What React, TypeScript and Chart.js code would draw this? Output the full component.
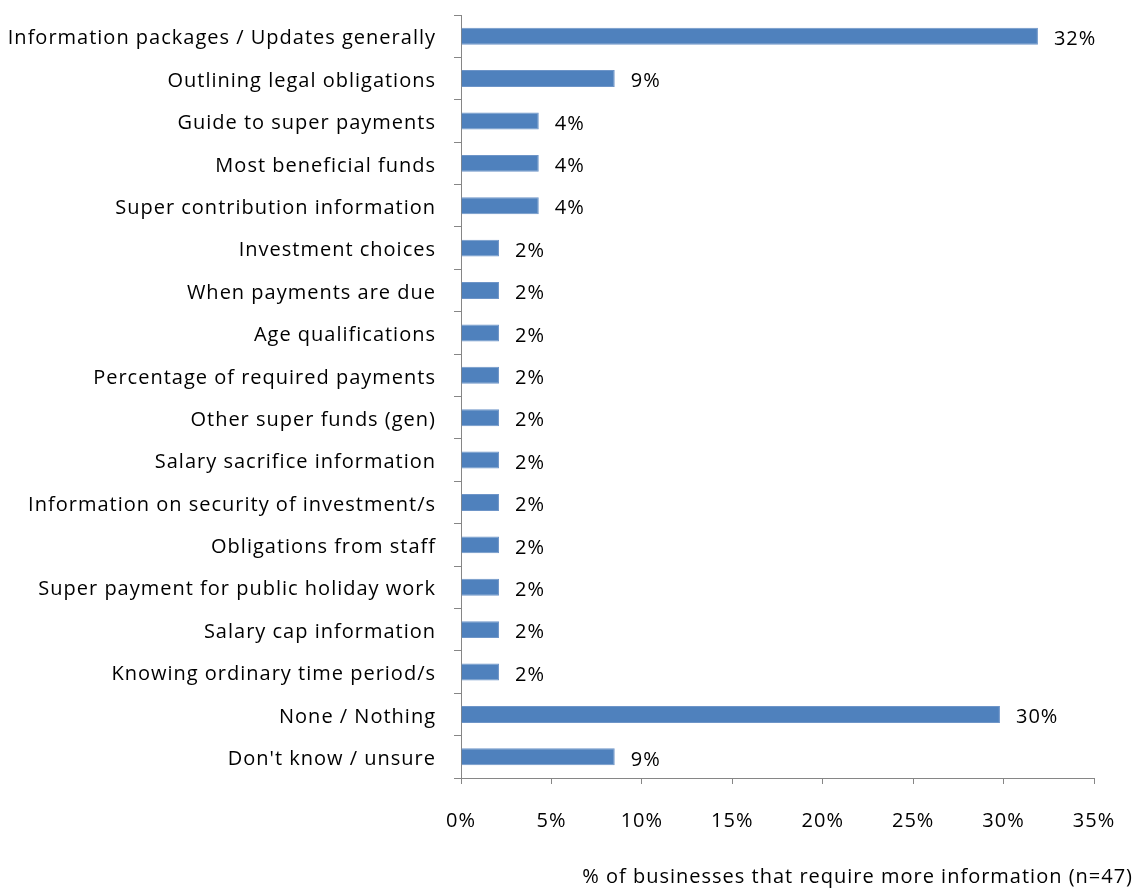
import React, { useEffect, useRef } from "react";
import { Chart, registerables } from "chart.js";

Chart.register(...registerables);

const categories: string[] = [
  "Information packages / Updates generally",
  "Outlining legal obligations",
  "Guide to super payments",
  "Most beneficial funds",
  "Super contribution information",
  "Investment choices",
  "When payments are due",
  "Age qualifications",
  "Percentage of required payments",
  "Other super funds (gen)",
  "Salary sacrifice information",
  "Information on security of investment/s",
  "Obligations from staff",
  "Super payment for public holiday work",
  "Salary cap information",
  "Knowing ordinary time period/s",
  "None / Nothing",
  "Don't know / unsure",
];

const values: number[] = [
  31.9, 8.5, 4.3, 4.3, 4.3, 2.1, 2.1, 2.1, 2.1, 2.1, 2.1, 2.1, 2.1, 2.1, 2.1, 2.1, 29.8, 8.5,
];

const valueLabels: string[] = [
  "32%", "9%", "4%", "4%", "4%", "2%", "2%", "2%", "2%", "2%", "2%", "2%", "2%", "2%", "2%", "2%", "30%", "9%",
];

const xTicks: number[] = [0, 5, 10, 15, 20, 25, 30, 35];
const axisTitle = "% of businesses that require more information (n=47)";

const FONT = "'Open Sans', Lato, sans-serif";
const FS = 20;

const labelPlugin = {
  id: "barValueLabels",
  beforeUpdate(chart: any) {
    chart.ctx.letterSpacing = "1px";
  },
  beforeDraw(chart: any) {
    chart.ctx.letterSpacing = "1px";
  },
  afterDatasetsDraw(chart: any) {
    const ctx = chart.ctx;
    const meta = chart.getDatasetMeta(0);
    ctx.save();
    ctx.font = `${FS}px ${FONT}`;
    ctx.fillStyle = "#000";
    ctx.textAlign = "left";
    ctx.textBaseline = "middle";
    meta.data.forEach((bar: any, i: number) => {
      ctx.fillText(valueLabels[i], bar.x + 16, bar.y + 3);
    });
    ctx.restore();
  },
  afterDraw(chart: any) {
    const ctx = chart.ctx;
    ctx.save();
    ctx.font = `${FS}px ${FONT}`;
    ctx.fillStyle = "#000";
    ctx.textAlign = "right";
    ctx.textBaseline = "middle";
    ctx.fillText(axisTitle, 1133, 877);
    ctx.restore();
  },
};

export default function App() {
  const ref = useRef<HTMLCanvasElement>(null);
  useEffect(() => {
    if (!ref.current) return;
    const chart = new Chart(ref.current, {
      type: "bar",
      data: {
        labels: categories,
        datasets: [
          {
            data: values,
            backgroundColor: "#4F81BD",
            borderColor: "#6E95C8",
            borderWidth: 1,
            categoryPercentage: 1,
            barPercentage: 0.4,
          },
        ],
      },
      plugins: [labelPlugin],
      options: {
        indexAxis: "y",
        animation: false,
        responsive: false,
        maintainAspectRatio: false,
        layout: { padding: { left: 0, right: 42, top: 15, bottom: 27.6 } },
        plugins: {
          legend: { display: false },
          tooltip: { enabled: false },
          title: { display: false },
        },
        scales: {
          y: {
            type: "category",
            offset: true,
            grid: {
              display: true,
              drawOnChartArea: false,
              drawTicks: true,
              tickLength: 7,
              offset: true,
              color: "#868686",
            },
            border: { display: true, color: "#868686", width: 1 },
            ticks: {
              color: "#000",
              font: { family: FONT, size: FS },
              padding: 18,
              labelOffset: 2.5,
              autoSkip: false,
            },
            afterFit(scale: any) {
              scale.width = 461;
              scale.paddingTop = 0;
              scale.paddingBottom = 0;
            },
          },
          x: {
            type: "linear",
            min: 0,
            max: 35,
            afterBuildTicks(scale: any) {
              scale.ticks = xTicks.map((v) => ({ value: v }));
            },
            grid: {
              display: true,
              drawOnChartArea: false,
              drawTicks: true,
              tickLength: 6,
              color: "#868686",
            },
            border: { display: true, color: "#868686", width: 1 },
            ticks: {
              color: "#000",
              font: { family: FONT, size: FS },
              padding: 25,
              maxRotation: 0,
              callback: (v: any) => `${v}%`,
            },
            afterFit(scale: any) {
              scale.height = 86.4;
              scale.paddingLeft = 0;
              scale.paddingRight = 0;
            },
          },
        },
      },
    });
    return () => chart.destroy();
  }, []);
  return (
    <div style={{ position: "fixed", left: 0, top: 0, width: 1136, height: 892, background: "#fff" }}>
      <canvas ref={ref} width={1136} height={892} style={{ width: 1136, height: 892 }} />
    </div>
  );
}
